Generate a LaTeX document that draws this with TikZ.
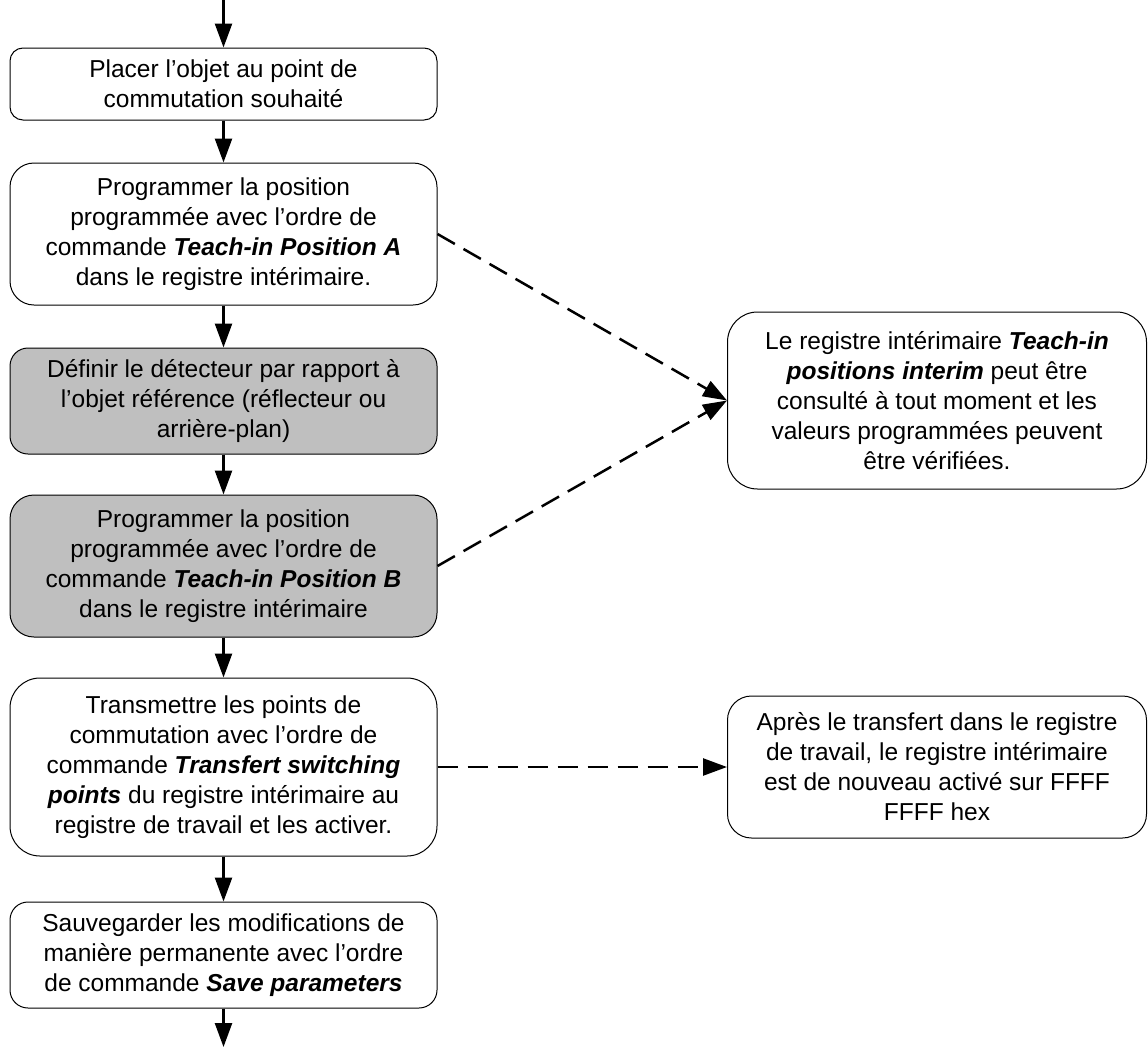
\documentclass[tikz,border=0pt]{standalone}
\usepackage{fontspec}
\setmainfont{Liberation Sans}
\usetikzlibrary{arrows.meta}
\newcommand{\bfit}[1]{\textbf{\textit{#1}}}
\tikzset{
  box/.style={draw=black, line width=1pt, rounded corners=16pt, align=center,
    minimum width=427pt, inner sep=0pt, font=\fontsize{24.5}{30}\selectfont},
  rbox/.style={box, minimum width=419pt},
  grayfill/.style={fill=black!25},
  flow/.style={line width=2.5pt, -{Triangle[length=24pt,width=17pt]}},
  dflow/.style={line width=2.5pt, dash pattern=on 20pt off 10pt, -{Triangle[length=24pt,width=17pt]}}
}
\begin{document}
\begin{tikzpicture}[x=1pt,y=-1pt]
\useasboundingbox (0,0) rectangle (1148,1047);
\coordinate (top) at (223.5,0);
\coordinate (bot) at (223.5,1047);
\node[box, rounded corners=13pt, minimum height=72pt] (b1) at (223.5,84) {Placer l’objet au point de\\commutation souhaité};
\node[box, rounded corners=24pt, minimum height=142pt] (b2) at (223.5,234) {Programmer la position\\programmée avec l’ordre de\\commande \bfit{Teach-in Position A}\\dans le registre intérimaire.};
\node[box, grayfill, rounded corners=18pt, minimum height=106pt] (b3) at (223.5,401) {Définir le détecteur par rapport à\\l’objet référence (réflecteur ou\\arrière-plan)};
\node[box, grayfill, rounded corners=24pt, minimum height=142pt] (b4) at (223.5,566) {Programmer la position\\programmée avec l’ordre de\\commande \bfit{Teach-in Position B}\\dans le registre intérimaire};
\node[box, rounded corners=30pt, minimum height=178pt] (b5) at (223.5,767) {Transmettre les points de\\commutation avec l’ordre de\\commande \bfit{Transfert switching}\\\bfit{points} du registre intérimaire au\\registre de travail et les activer.};
\node[box, rounded corners=18pt, minimum height=106pt] (b6) at (223.5,955) {Sauvegarder les modifications de\\manière permanente avec l’ordre\\de commande \bfit{Save parameters}};
\node[rbox, rounded corners=30pt, minimum height=177pt] (r1) at (937,400.5) {Le registre intérimaire \bfit{Teach-in}\\\bfit{positions interim} peut être\\consulté à tout moment et les\\valeurs programmées peuvent\\être vérifiées.};
\node[rbox, rounded corners=24pt, minimum height=142pt] (r2) at (937,767) {Après le transfert dans le registre\\de travail, le registre intérimaire\\est de nouveau activé sur FFFF\\FFFF hex};
\draw[flow] (top) -- (b1);
\draw[flow] (b1) -- (b2);
\draw[flow] (b2) -- (b3);
\draw[flow] (b3) -- (b4);
\draw[flow] (b4) -- (b5);
\draw[flow] (b5) -- (b6);
\draw[flow] (b6) -- (bot);
\draw[dflow] (b2.east) -- (r1.west);
\draw[dflow] (b4.east) -- (r1.west);
\draw[dflow] (b5.east) -- (r2.west);
\end{tikzpicture}
\end{document}
